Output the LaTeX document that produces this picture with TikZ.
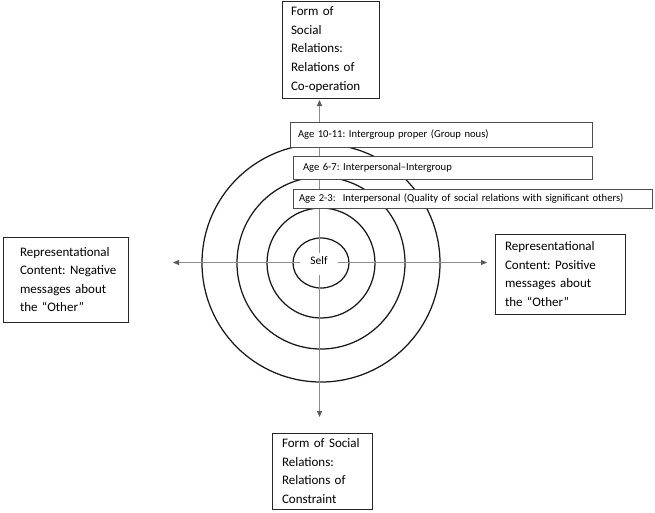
\documentclass[tikz,border=0pt]{standalone}
\usepackage{fontspec}
\setmainfont{Carlito}
\usetikzlibrary{arrows.meta}
\begin{document}
\begin{tikzpicture}[x=1pt,y=-1pt,
  bigbox/.style={draw=black!85, line width=0.9pt, fill=white, align=left,
    inner ysep=0pt, font=\fontsize{13}{18.6}\selectfont,
    execute at begin node={\hyphenpenalty=10000\exhyphenpenalty=10000}},
  agebox/.style={draw=black!70, line width=0.8pt, fill=white, align=left,
    inner ysep=0pt, font=\fontsize{10.6}{12}\selectfont,
    execute at begin node={\hyphenpenalty=10000\exhyphenpenalty=10000}},
  ring/.style={draw=black!90, line width=1.25pt},
  axis/.style={draw=black!45, line width=0.8pt, {Triangle[length=6pt,width=5pt,color=black!65,fill=black!65]}-{Triangle[length=6pt,width=5pt,color=black!65,fill=black!65]}}]
\useasboundingbox (0,0) rectangle (655,512);
\fill[white] (0,0) rectangle (655,512);

% rings
\coordinate (c) at (321,263);
\draw[ring] (c) ellipse[x radius=119, y radius=119];
\draw[ring] (c) ellipse[x radius=84, y radius=86];
\draw[ring] (c) ellipse[x radius=54, y radius=55];
\draw[ring] (c) ellipse[x radius=28, y radius=25];

% axis end points
\coordinate (eN) at (319.5,100);
\coordinate (eS) at (319.5,417);
\coordinate (eW) at (173,262.5);
\coordinate (eE) at (487,262.5);
\draw[axis] (eN) -- (eS);
\draw[axis] (eW) -- (eE);

% self label
\node[fill=white, anchor=base, minimum width=38pt, inner ysep=3pt, text depth=8pt,
  font=\fontsize{11.5}{13}\selectfont] (self) at (319,264) {Self};

% age boxes
\node[agebox, minimum width=302pt, minimum height=25pt, text width=286pt, inner xsep=8pt] (age1) at (441,134.5)
  {Age~10-11:~Intergroup~proper~(Group~nous)};
\node[agebox, minimum width=299pt, minimum height=23pt, text width=279pt, inner xsep=10pt] (age2) at (442.5,167.5)
  {Age~6-7:~Interpersonal–Intergroup};
\node[agebox, minimum width=359pt, minimum height=19pt, text width=347pt, inner xsep=6pt] (age3) at (472.5,198.5)
  {Age~2-3:\ \ Interpersonal~(Quality~of~social~relations~with~significant~others)};

% outer boxes
\node[bigbox, minimum width=97pt, minimum height=97pt, text width=79pt, inner xsep=9pt] (top) at (330.5,49.5)
  {Form~of\\Social\\Relations:\\Relations~of\\Co-operation};
\node[bigbox, minimum width=100pt, minimum height=76pt, text width=80pt, inner xsep=10pt] (bottom) at (322,471)
  {Form~of~Social\\Relations:\\Relations~of\\Constraint};
\node[bigbox, minimum width=125pt, minimum height=85pt, text width=91pt, inner xsep=17pt] (left) at (65.5,279.5)
  {Representational\\Content:~Negative\\messages~about\\the~“Other”};
\node[bigbox, minimum width=130pt, minimum height=80pt, text width=110pt, inner xsep=10pt] (right) at (560,274)
  {Representational\\Content:~Positive\\messages~about\\the~“Other”};
\end{tikzpicture}
\end{document}
